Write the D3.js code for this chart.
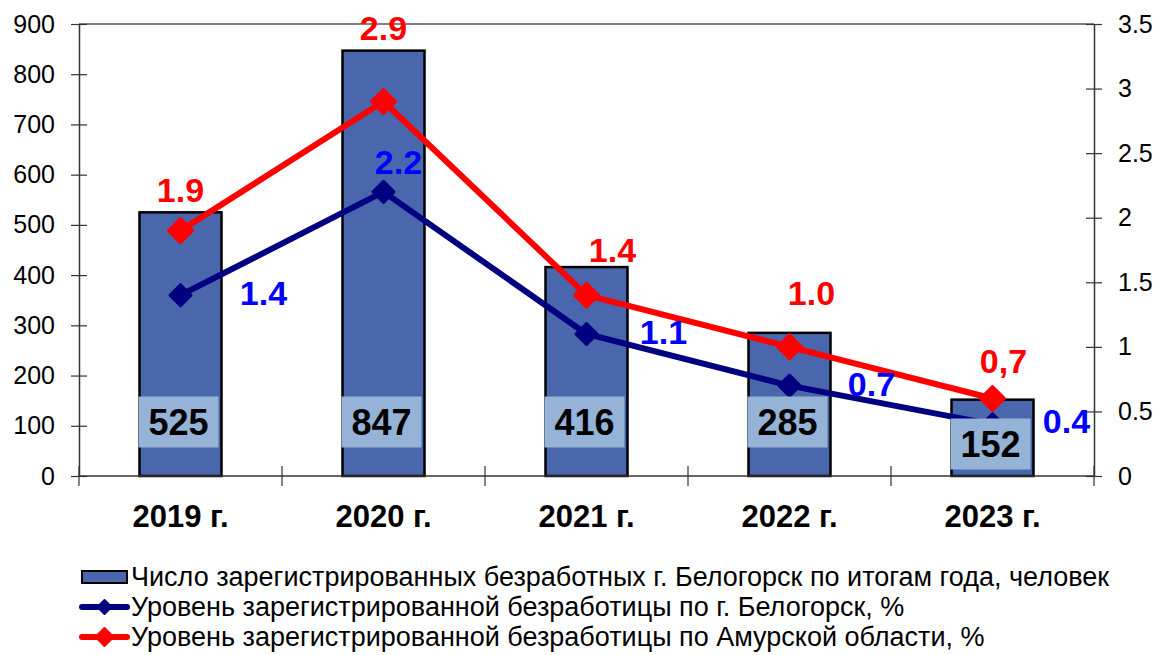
<!DOCTYPE html>
<html><head><meta charset="utf-8">
<script src="https://cdn.jsdelivr.net/npm/d3@7"></script>
<style>
html,body{margin:0;padding:0;background:#fff;}
svg{display:block;font-family:"Liberation Sans",Arial,sans-serif;}
</style></head>
<body>
<svg id="chart" width="1165" height="655"></svg>
<script>
// ---- data ----
const categories = ["2019 г.", "2020 г.", "2021 г.", "2022 г.", "2023 г."];
const unemployedCount = [525, 847, 416, 285, 152];
const rateBelogorsk = [1.4, 2.2, 1.1, 0.7, 0.4];
const rateBelogorskLabels = ["1.4", "2.2", "1.1", "0.7", "0.4"];
const rateAmur = [1.9, 2.9, 1.4, 1.0, 0.6];
const rateAmurLabels = ["1.9", "2.9", "1.4", "1.0", "0,7"];
const leftTicks = [0, 100, 200, 300, 400, 500, 600, 700, 800, 900];
const rightTicks = [0, 0.5, 1, 1.5, 2, 2.5, 3, 3.5];
const rightTickLabels = ["0", "0.5", "1", "1.5", "2", "2.5", "3", "3.5"];
const legendLabels = [
  "Число зарегистрированных безработных г. Белогорск по итогам года, человек",
  "Уровень зарегистрированной безработицы по г. Белогорск, %",
  "Уровень зарегистрированной безработицы по Амурской области, %"
];

// ---- layout (label offsets in px, relative to point) ----
const blueLabelOffset = [[83, -2], [15, -30], [77, -2], [82, -2], [74, -3]];
const redLabelOffset = [[0, -41], [0, -73], [26, -45], [22, -54], [11, -38]];

const svg = d3.select("#chart");
const L = 79, R = 1094, T = 24, B = 476;
const x = d3.scaleBand().domain(categories).range([L, R]).paddingInner(0).paddingOuter(0);
const yL = d3.scaleLinear().domain([0, 900]).range([B, T]);
const yR = d3.scaleLinear().domain([0, 3.5]).range([B, T]);
const barW = 82;
const cx = c => x(c) + x.bandwidth() / 2;

const BAR = "#4A66AC", BOX = "#95B3D7", NAVY = "#000080", RED = "#FF0000", BLUE = "#0000FF";

// top border
svg.append("line").attr("x1", L).attr("x2", R).attr("y1", T).attr("y2", T)
  .attr("stroke", "#808080").attr("stroke-width", 2);

// left axis
const gL = svg.append("g").attr("transform", `translate(${L},0)`)
  .call(d3.axisLeft(yL).tickValues(leftTicks).tickSize(8).tickPadding(16).tickSizeOuter(0));
gL.select(".domain").attr("stroke", "#333").attr("stroke-width", 1.5);
gL.selectAll(".tick line").attr("stroke", "#333").attr("stroke-width", 1.2).attr("x1", 8);
gL.selectAll(".tick text").attr("font-size", 25).attr("fill", "#000")
  .attr("font-family", "Liberation Sans, Arial, sans-serif").attr("x", -24);

// right axis
const gR = svg.append("g").attr("transform", `translate(${R},0)`)
  .call(d3.axisRight(yR).tickValues(rightTicks).tickFormat((d, i) => rightTickLabels[i]).tickSize(8).tickPadding(16).tickSizeOuter(0));
gR.select(".domain").attr("stroke", "#333").attr("stroke-width", 1.5);
gR.selectAll(".tick line").attr("stroke", "#333").attr("stroke-width", 1.2).attr("x1", -8);
gR.selectAll(".tick text").attr("font-size", 25).attr("fill", "#000")
  .attr("font-family", "Liberation Sans, Arial, sans-serif").attr("x", 24);

// bars
svg.append("g").selectAll("rect").data(unemployedCount).join("rect")
  .attr("x", (d, i) => cx(categories[i]) - barW / 2)
  .attr("width", barW)
  .attr("y", d => yL(d))
  .attr("height", d => B - yL(d))
  .attr("fill", BAR).attr("stroke", "#000").attr("stroke-width", 2.5);

// x axis
svg.append("line").attr("x1", L).attr("x2", R).attr("y1", B).attr("y2", B)
  .attr("stroke", "#333").attr("stroke-width", 1.5);
const bounds = categories.map(c => x(c)).concat([R]);
svg.append("g").selectAll("line").data(bounds).join("line")
  .attr("x1", d => d).attr("x2", d => d).attr("y1", B - 10).attr("y2", B + 10)
  .attr("stroke", "#333").attr("stroke-width", 1.2);
svg.append("g").selectAll("text").data(categories).join("text")
  .attr("x", d => cx(d)).attr("y", 527).attr("text-anchor", "middle")
  .attr("font-size", 31).attr("font-weight", "bold").attr("fill", "#000").text(d => d);

// lines
function diamond(s) { return `M0,${-s}L${s},0L0,${s}L${-s},0Z`; }
function drawSeries(vals, color, width, mk) {
  const line = d3.line().x((d, i) => cx(categories[i])).y(d => yR(d));
  svg.append("path").datum(vals).attr("d", line).attr("fill", "none")
    .attr("stroke", color).attr("stroke-width", width).attr("stroke-linejoin", "round");
  svg.append("g").selectAll("path").data(vals).join("path")
    .attr("transform", (d, i) => `translate(${cx(categories[i])},${yR(d)})`)
    .attr("d", diamond(mk)).attr("fill", color).attr("stroke", color)
    .attr("stroke-width", 3).attr("stroke-linejoin", "round");
}
drawSeries(rateBelogorsk, NAVY, 6, 10.5);
drawSeries(rateAmur, RED, 6, 12);

// bar value labels
const boxH = 51, boxW = 80;
const barLab = svg.append("g");
unemployedCount.forEach((v, i) => {
  const c = cx(categories[i]);
  const h = B - yL(v);
  const cy = h < 100 ? B - 32 : 422;
  barLab.append("rect").attr("x", c - boxW / 2 - 2).attr("y", cy - boxH / 2)
    .attr("width", boxW).attr("height", boxH).attr("fill", BOX);
  barLab.append("text").attr("x", c - 2).attr("y", cy + 13).attr("text-anchor", "middle")
    .attr("font-size", 36).attr("font-weight", "bold").attr("fill", "#000").text(v);
});

// line labels
rateBelogorsk.forEach((v, i) => {
  const o = blueLabelOffset[i];
  svg.append("text").attr("x", cx(categories[i]) + o[0]).attr("y", yR(v) + o[1] + 12)
    .attr("text-anchor", "middle").attr("font-size", 34).attr("font-weight", "bold")
    .attr("fill", BLUE).text(rateBelogorskLabels[i]);
});
rateAmur.forEach((v, i) => {
  const o = redLabelOffset[i];
  svg.append("text").attr("x", cx(categories[i]) + o[0]).attr("y", yR(v) + o[1] + 12)
    .attr("text-anchor", "middle").attr("font-size", 34).attr("font-weight", "bold")
    .attr("fill", RED).text(rateAmurLabels[i]);
});

// legend
const lg = svg.append("g");
const rows = [577, 607, 637];
lg.append("rect").attr("x", 82).attr("y", rows[0] - 6).attr("width", 45).attr("height", 12)
  .attr("fill", BAR).attr("stroke", "#000").attr("stroke-width", 2);
[[NAVY, 7], [RED, 9]].forEach((s, k) => {
  const y = rows[k + 1];
  lg.append("line").attr("x1", 82).attr("x2", 127).attr("y1", y).attr("y2", y)
    .attr("stroke", s[0]).attr("stroke-width", 6).attr("stroke-linecap", "round");
  lg.append("path").attr("transform", `translate(104.5,${y})`).attr("d", diamond(s[1]))
    .attr("fill", s[0]).attr("stroke", s[0]).attr("stroke-width", 2).attr("stroke-linejoin", "round");
});
lg.selectAll("text").data(legendLabels).join("text")
  .attr("x", 131).attr("y", (d, i) => rows[i] + 9)
  .attr("font-size", 27).attr("fill", "#000").text(d => d);
</script>
</body></html>
